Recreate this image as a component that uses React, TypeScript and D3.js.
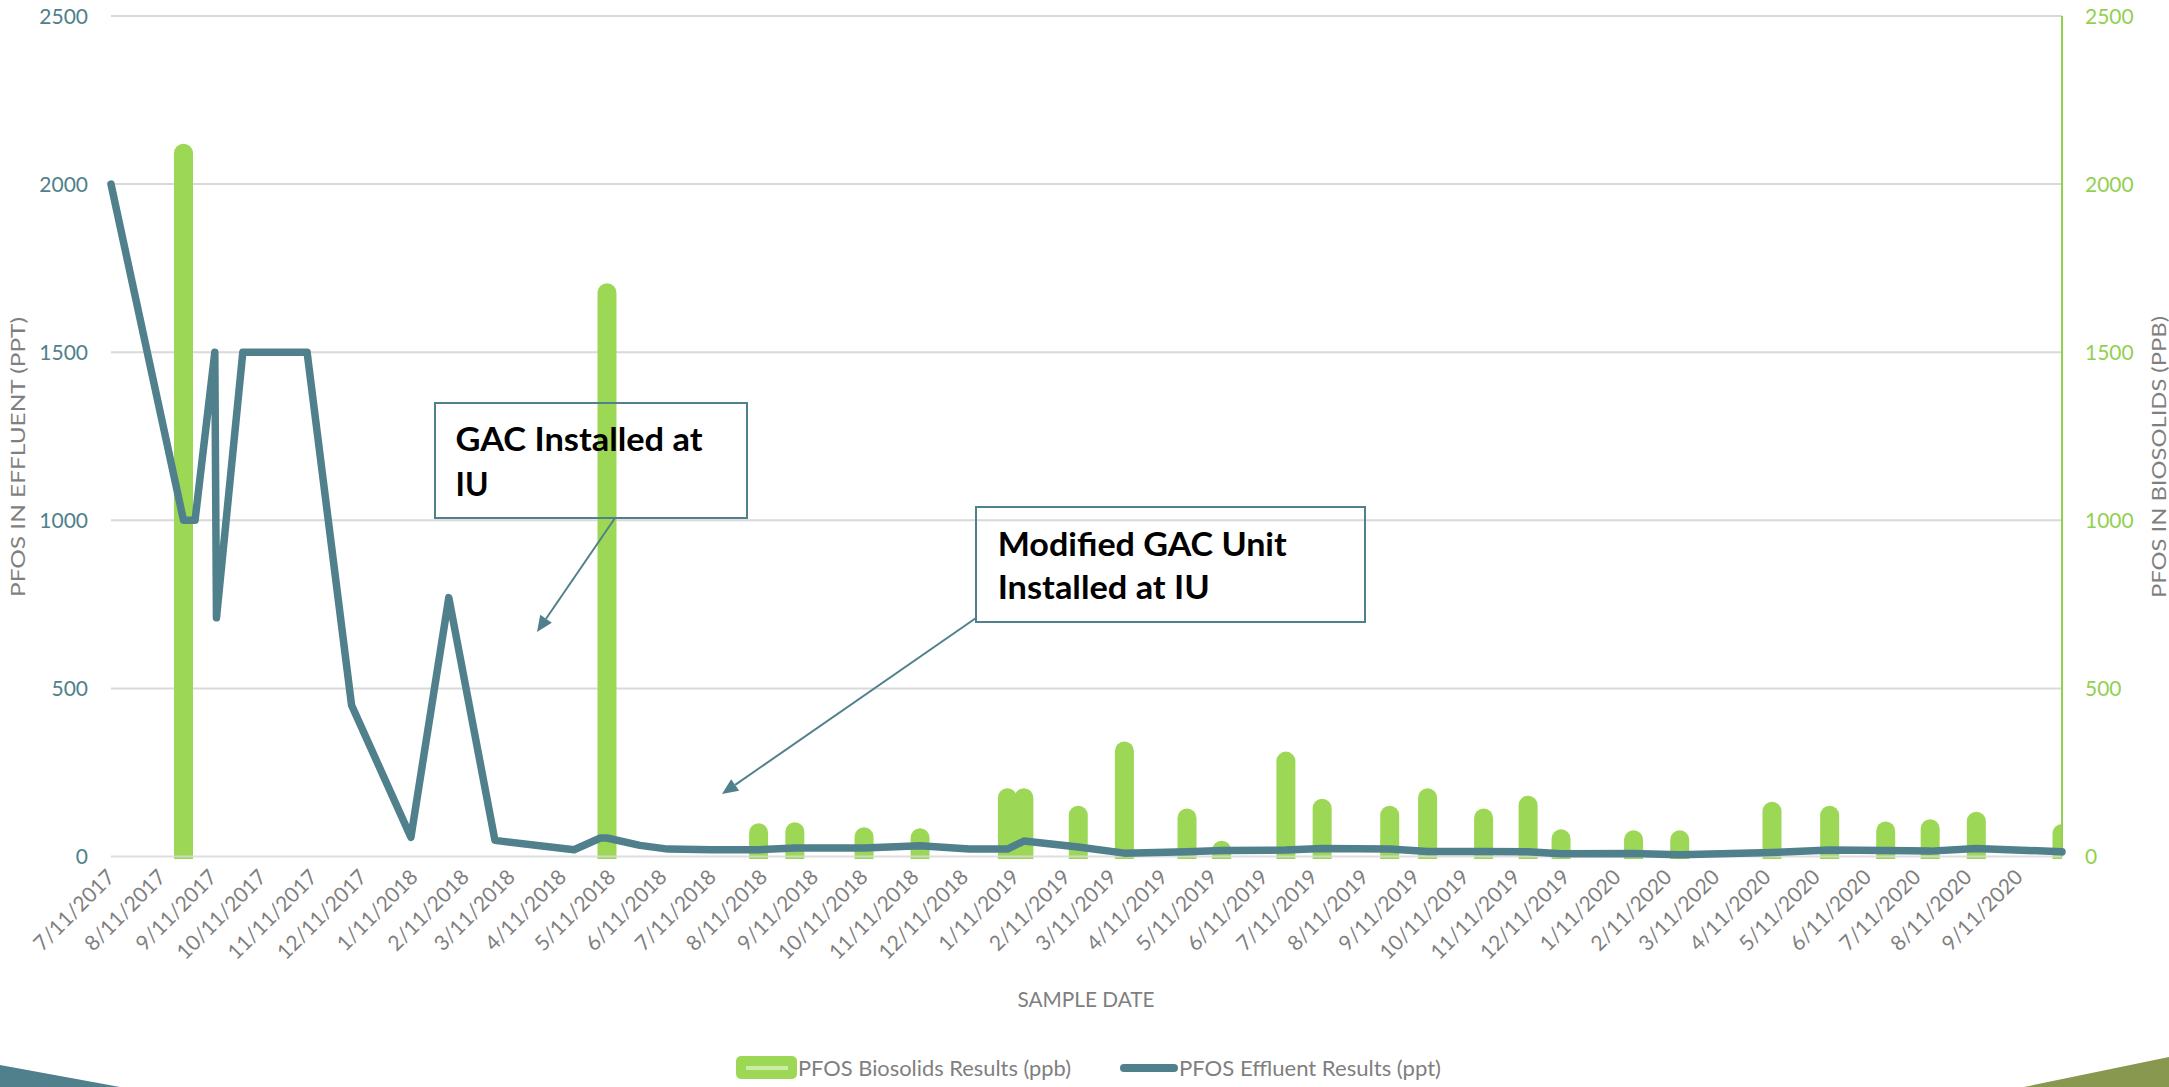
import React from 'react';
import * as d3 from 'd3';

// ---- Data ----
const effluentDates = [
  '7/11/2017', '8/24/2017', '8/31/2017', '9/12/2017', '9/13/2017', '9/29/2017', '11/7/2017',
  '12/4/2017', '1/9/2018', '2/1/2018', '3/1/2018', '4/18/2018', '5/4/2018', '5/8/2018',
  '5/28/2018', '6/14/2018', '7/11/2018', '8/8/2018', '8/30/2018', '10/11/2018', '11/14/2018',
  '12/14/2018', '1/6/2019', '1/16/2019', '2/18/2019', '3/18/2019', '4/25/2019', '5/16/2019',
  '6/24/2019', '7/16/2019', '8/26/2019', '9/18/2019', '10/22/2019', '11/18/2019', '12/8/2019',
  '1/21/2020', '2/18/2020', '4/14/2020', '5/19/2020', '6/22/2020', '7/19/2020', '8/16/2020',
  '10/7/2020',
];
const effluentValues = [
  2000, 1000, 1000, 1500, 710, 1500, 1500,
  450, 57, 770, 48, 20, 55, 55,
  33, 22, 20, 20, 25, 25, 32,
  22, 22, 46, 28, 10, 14, 18,
  19, 24, 22, 15, 15, 14, 8,
  9, 5, 12, 19, 18, 16, 24,
  14,
];

const biosolidsDates = [
  '8/24/2017', '5/8/2018', '8/8/2018', '8/30/2018', '10/11/2018', '11/14/2018', '1/6/2019',
  '1/16/2019', '2/18/2019', '3/18/2019', '4/25/2019', '5/16/2019', '6/24/2019', '7/16/2019',
  '8/26/2019', '9/18/2019', '10/22/2019', '11/18/2019', '12/8/2019', '1/21/2020', '2/18/2020',
  '4/14/2020', '5/19/2020', '6/22/2020', '7/19/2020', '8/16/2020', '10/7/2020',
];
const biosolidsValues = [
  2120, 1705, 99, 102, 87, 84, 203,
  203, 151, 342, 143, 47, 312, 172,
  151, 203, 143, 181, 81, 78, 78,
  163, 151, 104, 111, 133, 97,
];

const xTickLabels = [
  '7/11/2017', '8/11/2017', '9/11/2017', '10/11/2017', '11/11/2017', '12/11/2017',
  '1/11/2018', '2/11/2018', '3/11/2018', '4/11/2018', '5/11/2018', '6/11/2018',
  '7/11/2018', '8/11/2018', '9/11/2018', '10/11/2018', '11/11/2018', '12/11/2018',
  '1/11/2019', '2/11/2019', '3/11/2019', '4/11/2019', '5/11/2019', '6/11/2019',
  '7/11/2019', '8/11/2019', '9/11/2019', '10/11/2019', '11/11/2019', '12/11/2019',
  '1/11/2020', '2/11/2020', '3/11/2020', '4/11/2020', '5/11/2020', '6/11/2020',
  '7/11/2020', '8/11/2020', '9/11/2020',
];
const leftTicks = [0, 500, 1000, 1500, 2000, 2500];
const rightTicks = [0, 500, 1000, 1500, 2000, 2500];
const axisDomain = ['7/11/2017', '10/7/2020'];

const TEAL = '#50808b';
const GREEN = '#9cd856';
const AXIS_GREEN = '#92d050';
const GRAY = '#7f7f7f';
const GRID = '#d9d9d9';
const FONT = 'Lato, "Open Sans", sans-serif';

export default function App() {
  const W = 2169;
  const H = 1087;
  const left = 111;
  const right = 2062;
  const top = 16;
  const bottom = 856.5;

  const parse = d3.timeParse('%m/%d/%Y');
  const x = d3
    .scaleTime()
    .domain([parse(axisDomain[0]) as Date, parse(axisDomain[1]) as Date])
    .range([left, right]);
  const yL = d3.scaleLinear().domain([0, 2500]).range([bottom, top]);
  const yR = d3.scaleLinear().domain([0, 2500]).range([bottom, top]);

  const effPts: [Date, number][] = effluentDates.map((d, i) => [parse(d) as Date, effluentValues[i]]);
  const linePath = d3
    .line<[Date, number]>()
    .x((d) => x(d[0]))
    .y((d) => yL(d[1]))(effPts) as string;

  const barW = 19;
  const r = barW / 2;
  const bars = biosolidsDates.map((d, i) => {
    const cx = x(parse(d) as Date);
    const yt = yR(biosolidsValues[i]);
    const yb = yR(0) + 2.5;
    const x0 = cx - r;
    const p = `M${x0},${yb} L${x0},${yt + r} A${r},${r} 0 0 1 ${x0 + barW},${yt + r} L${x0 + barW},${yb} Z`;
    return <path key={i} d={p} fill={GREEN} />;
  });

  const arrowHead = (x1: number, y1: number, x2: number, y2: number) => {
    const ang = Math.atan2(y2 - y1, x2 - x1);
    const len = 16;
    const half = 7;
    const bx = x2 - len * Math.cos(ang);
    const by = y2 - len * Math.sin(ang);
    const px = -Math.sin(ang) * half;
    const py = Math.cos(ang) * half;
    return (
      <g>
        <line x1={x1} y1={y1} x2={bx} y2={by} stroke={TEAL} strokeWidth={2} />
        <polygon points={`${x2},${y2} ${bx + px},${by + py} ${bx - px},${by - py}`} fill={TEAL} />
      </g>
    );
  };

  return (
    <svg
      width={W}
      height={H}
      viewBox={`0 0 ${W} ${H}`}
      style={{ position: 'absolute', left: 0, top: 0, background: '#fff' }}
      fontFamily={FONT}
    >
      <defs>
        <clipPath id="plotClip">
          <rect x={left} y={0} width={right - left} height={bottom + 6} />
        </clipPath>
      </defs>
      <rect x={0} y={0} width={W} height={H} fill="#fff" />

      {/* gridlines */}
      {leftTicks
        .filter((t) => t !== 0)
        .map((t) => (
          <line key={t} x1={left} x2={right} y1={yL(t)} y2={yL(t)} stroke={GRID} strokeWidth={2} />
        ))}

      {/* bars */}
      <g clipPath="url(#plotClip)">{bars}</g>

      {/* zero line */}
      <line x1={left} x2={right} y1={yL(0)} y2={yL(0)} stroke={GRID} strokeWidth={2} opacity={0.85} />

      {/* right axis line */}
      <line x1={right} x2={right} y1={top} y2={bottom} stroke={AXIS_GREEN} strokeWidth={2} />

      {/* effluent line */}
      <path
        d={linePath}
        fill="none"
        stroke={TEAL}
        strokeWidth={7.5}
        strokeLinejoin="round"
        strokeLinecap="round"
      />

      {/* left ticks */}
      {leftTicks.map((t) => (
        <text key={t} x={88} y={yL(t) + 7.5} textAnchor="end" fontSize={21} fill={TEAL}>
          {t}
        </text>
      ))}
      {/* right ticks */}
      {rightTicks.map((t) => (
        <text key={t} x={2085} y={yR(t) + 7.5} textAnchor="start" fontSize={21} fill={AXIS_GREEN}>
          {t}
        </text>
      ))}

      {/* x tick labels */}
      {xTickLabels.map((lbl) => {
        const tx = x(parse(lbl) as Date);
        return (
          <text
            key={lbl}
            transform={`translate(${tx + 5},${bottom + 22}) rotate(-45)`}
            textAnchor="end"
            fontSize={21}
            fill={GRAY}
          >
            {lbl}
          </text>
        );
      })}

      {/* axis titles */}
      <text
        transform={`translate(25,457) rotate(-90)`}
        textAnchor="middle"
        fontSize={20}
        fill={GRAY}
        textLength={280}
        lengthAdjust="spacingAndGlyphs"
      >
        PFOS IN EFFLUENT (PPT)
      </text>
      <text
        transform={`translate(2166,457) rotate(-90)`}
        textAnchor="middle"
        fontSize={20}
        fill={GRAY}
        textLength={282}
        lengthAdjust="spacingAndGlyphs"
      >
        PFOS IN BIOSOLIDS (PPB)
      </text>
      <text
        x={1086}
        y={1006.5}
        textAnchor="middle"
        fontSize={21}
        fill={GRAY}
        textLength={137}
        lengthAdjust="spacingAndGlyphs"
      >
        SAMPLE DATE
      </text>

      {/* annotations */}
      <rect x={435} y={403} width={312} height={115} fill="none" stroke={TEAL} strokeWidth={2} />
      <text x={455.5} y={450.5} fontSize={33} fontWeight={700} fill="#000" textLength={247} lengthAdjust="spacingAndGlyphs">
        GAC Installed at
      </text>
      <text x={455.5} y={495.5} fontSize={33} fontWeight={700} fill="#000" textLength={33} lengthAdjust="spacingAndGlyphs">
        IU
      </text>
      {arrowHead(615, 518, 537, 632)}

      <rect x={976} y={507} width={389} height={115} fill="none" stroke={TEAL} strokeWidth={2} />
      <text x={997.7} y={555.5} fontSize={33} fontWeight={700} fill="#000" textLength={289} lengthAdjust="spacingAndGlyphs">
        Modified GAC Unit
      </text>
      <text x={997.7} y={599.3} fontSize={33} fontWeight={700} fill="#000" textLength={212} lengthAdjust="spacingAndGlyphs">
        Installed at IU
      </text>
      {arrowHead(976, 618, 722, 794)}

      {/* legend */}
      <rect x={736} y={1056} width={61} height={23} rx={5} fill={GREEN} />
      <line x1={746} x2={788} y1={1068} y2={1068} stroke="#c9eda2" strokeWidth={4} />
      <text x={798} y={1076} fontSize={22} fill={GRAY} textLength={273} lengthAdjust="spacingAndGlyphs">
        PFOS Biosolids Results (ppb)
      </text>
      <line x1={1124} x2={1174} y1={1068} y2={1068} stroke={TEAL} strokeWidth={8} strokeLinecap="round" />
      <text x={1179} y={1076} fontSize={22} fill={GRAY} textLength={262} lengthAdjust="spacingAndGlyphs">
        PFOS Effluent Results (ppt)
      </text>

      {/* decorative corner shapes */}
      <polygon points={`0,1065 120,1087 0,1087`} fill={TEAL} />
      <polygon points={`2024,1087 2169,1057 2169,1087`} fill="#88994f" />
    </svg>
  );
}
